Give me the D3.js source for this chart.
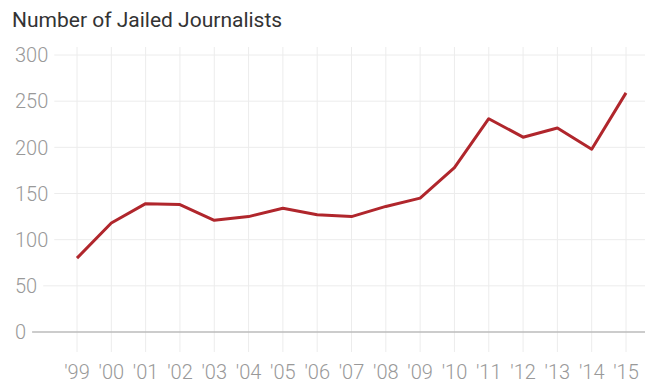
<!DOCTYPE html>
<html lang="en">
<head>
    <meta charset="UTF-8">
    <title>Number of Jailed Journalists</title>
    <script src="https://d3js.org/d3.v7.min.js"></script>
    <style>
        body { margin: 0; background: #fff; }
        svg { display: block; }
    </style>
</head>
<body>
<div id="chart"></div>
<script>
    const years = ["'99", "'00", "'01", "'02", "'03", "'04", "'05", "'06", "'07", "'08", "'09", "'10", "'11", "'12", "'13", "'14", "'15"];
    const jailed = [80, 118, 139, 138, 121, 125, 134, 127, 125, 136, 145, 178, 231, 211, 221, 198, 259];
    const yTicks = [0, 50, 100, 150, 200, 250, 300];

    const width = 645, height = 383;
    const font = "Roboto, 'Noto Sans', sans-serif";

    const svg = d3.select("#chart")
        .append("svg")
        .attr("width", width)
        .attr("height", height);

    const x = d3.scalePoint()
        .domain(years)
        .range([77, 626]);

    const y = d3.scaleLinear()
        .domain([0, 300])
        .range([332, 55]);

    svg.append("text")
        .attr("x", 12)
        .attr("y", 27)
        .attr("fill", "#333")
        .style("font-family", font)
        .style("font-size", "21px")
        .text("Number of Jailed Journalists");

    // vertical grid
    svg.append("g")
        .selectAll("line")
        .data(years)
        .join("line")
        .attr("x1", d => x(d)).attr("x2", d => x(d))
        .attr("y1", 47).attr("y2", 352)
        .attr("stroke", "#ececec")
        .attr("stroke-width", 1);

    // y labels + horizontal grid
    const yg = svg.append("g");
    const labels = yg.selectAll("text")
        .data(yTicks)
        .join("text")
        .attr("x", 15)
        .attr("y", d => y(d))
        .attr("dy", "0.36em")
        .attr("fill", "#999")
        .style("font-family", font)
        .style("font-weight", 300)
        .style("font-size", "20px")
        .text(d => d);

    labels.each(function(d) {
        const w = this.getComputedTextLength();
        yg.insert("line", "text")
            .attr("x1", 15 + w + 6).attr("x2", width)
            .attr("y1", y(d)).attr("y2", y(d))
            .attr("stroke", d === 0 ? "#bbb" : "#ececec")
            .attr("stroke-width", d === 0 ? 1.5 : 1);
    });

    // x labels
    svg.append("g")
        .selectAll("text")
        .data(years)
        .join("text")
        .attr("x", d => x(d))
        .attr("y", 379)
        .attr("text-anchor", "middle")
        .attr("fill", "#999")
        .style("font-family", font)
        .style("font-weight", 300)
        .style("font-size", "20px")
        .text(d => d);

    const line = d3.line()
        .x((d, i) => x(years[i]))
        .y(d => y(d));

    svg.append("path")
        .datum(jailed)
        .attr("fill", "none")
        .attr("stroke", "#b0262c")
        .attr("stroke-width", 3)
        .attr("stroke-linejoin", "round")
        .attr("d", line);
</script>
</body>
</html>
